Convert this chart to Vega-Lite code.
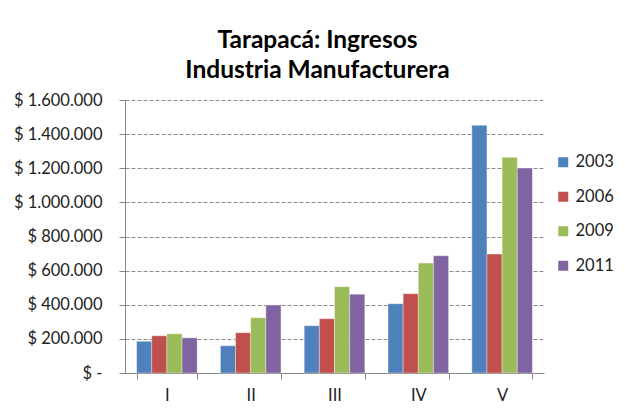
{
  "$schema": "https://vega.github.io/schema/vega-lite/v6.json",
  "width": 419,
  "height": 273,
  "autosize": {"type": "none"},
  "padding": {"left": 125, "top": 100, "right": 81, "bottom": 37},
  "background": "white",
  "title": {
    "text": ["Tarapacá: Ingresos", "Industria Manufacturera"],
    "font": "Lato",
    "fontSize": 24.5,
    "fontWeight": "bold",
    "color": "#000000",
    "lineHeight": 30,
    "anchor": "middle",
    "dx": -17,
    "offset": 9
  },
  "data": {
    "values": [
      {"region": "I", "year": "2003", "value": 186000},
      {"region": "I", "year": "2006", "value": 218000},
      {"region": "I", "year": "2009", "value": 230000},
      {"region": "I", "year": "2011", "value": 206000},
      {"region": "II", "year": "2003", "value": 160000},
      {"region": "II", "year": "2006", "value": 236000},
      {"region": "II", "year": "2009", "value": 324000},
      {"region": "II", "year": "2011", "value": 398000},
      {"region": "III", "year": "2003", "value": 277000},
      {"region": "III", "year": "2006", "value": 318000},
      {"region": "III", "year": "2009", "value": 506000},
      {"region": "III", "year": "2011", "value": 462000},
      {"region": "IV", "year": "2003", "value": 406000},
      {"region": "IV", "year": "2006", "value": 465000},
      {"region": "IV", "year": "2009", "value": 644000},
      {"region": "IV", "year": "2011", "value": 687000},
      {"region": "V", "year": "2003", "value": 1452000},
      {"region": "V", "year": "2006", "value": 697000},
      {"region": "V", "year": "2009", "value": 1264000},
      {"region": "V", "year": "2011", "value": 1201000}
    ]
  },
  "mark": {"type": "bar", "stroke": "white", "strokeWidth": 0.6, "strokeOpacity": 0.6},
  "encoding": {
    "x": {
      "field": "region",
      "type": "nominal",
      "sort": ["I", "II", "III", "IV", "V"],
      "scale": {"paddingInner": 0.277, "paddingOuter": 0.1385},
      "axis": {
        "title": null,
        "labelAngle": 0,
        "tickBand": "extent",
        "tickSize": 6,
        "labelPadding": 8,
        "labelFont": "Lato",
        "labelFontSize": 16.5,
        "labelColor": "#222222",
        "domainColor": "#868686",
        "tickColor": "#868686",
        "grid": false
      }
    },
    "xOffset": {
      "field": "year",
      "type": "nominal",
      "scale": {"paddingInner": 0, "paddingOuter": 0}
    },
    "y": {
      "field": "value",
      "type": "quantitative",
      "scale": {"domain": [0, 1600000], "nice": false},
      "axis": {
        "title": null,
        "values": [0, 200000, 400000, 600000, 800000, 1000000, 1200000, 1400000, 1600000],
        "format": ",.0f",
        "labelExpr": "datum.value == 0 ? '$ -\u00a0\u00a0\u00a0' : '$ ' + datum.label",
        "labelFont": "Lato",
        "labelFontSize": 16.5,
        "labelColor": "#222222",
        "labelPadding": 17,
        "tickSize": 6,
        "tickColor": "#868686",
        "domainColor": "#868686",
        "grid": true,
        "gridColor": "#8c8c8c",
        "gridDash": [4, 2],
        "gridWidth": 1
      }
    },
    "color": {
      "field": "year",
      "type": "nominal",
      "scale": {"domain": ["2003", "2006", "2009", "2011"], "range": ["#4F81BD", "#C0504D", "#9BBB59", "#8064A2"]},
      "legend": {
        "title": null,
        "orient": "none",
        "legendX": 430,
        "legendY": 54,
        "symbolType": "square",
        "symbolSize": 100,
        "symbolStrokeWidth": 0,
        "labelFont": "Lato",
        "labelFontSize": 16.5,
        "labelColor": "#222222",
        "labelOffset": 4,
        "rowPadding": 17.5,
        "padding": 0
      }
    }
  },
  "config": {
    "view": {"stroke": null},
    "locale": {"number": {"decimal": ",", "thousands": ".", "grouping": [3], "currency": ["$ ", ""]}}
  }
}
